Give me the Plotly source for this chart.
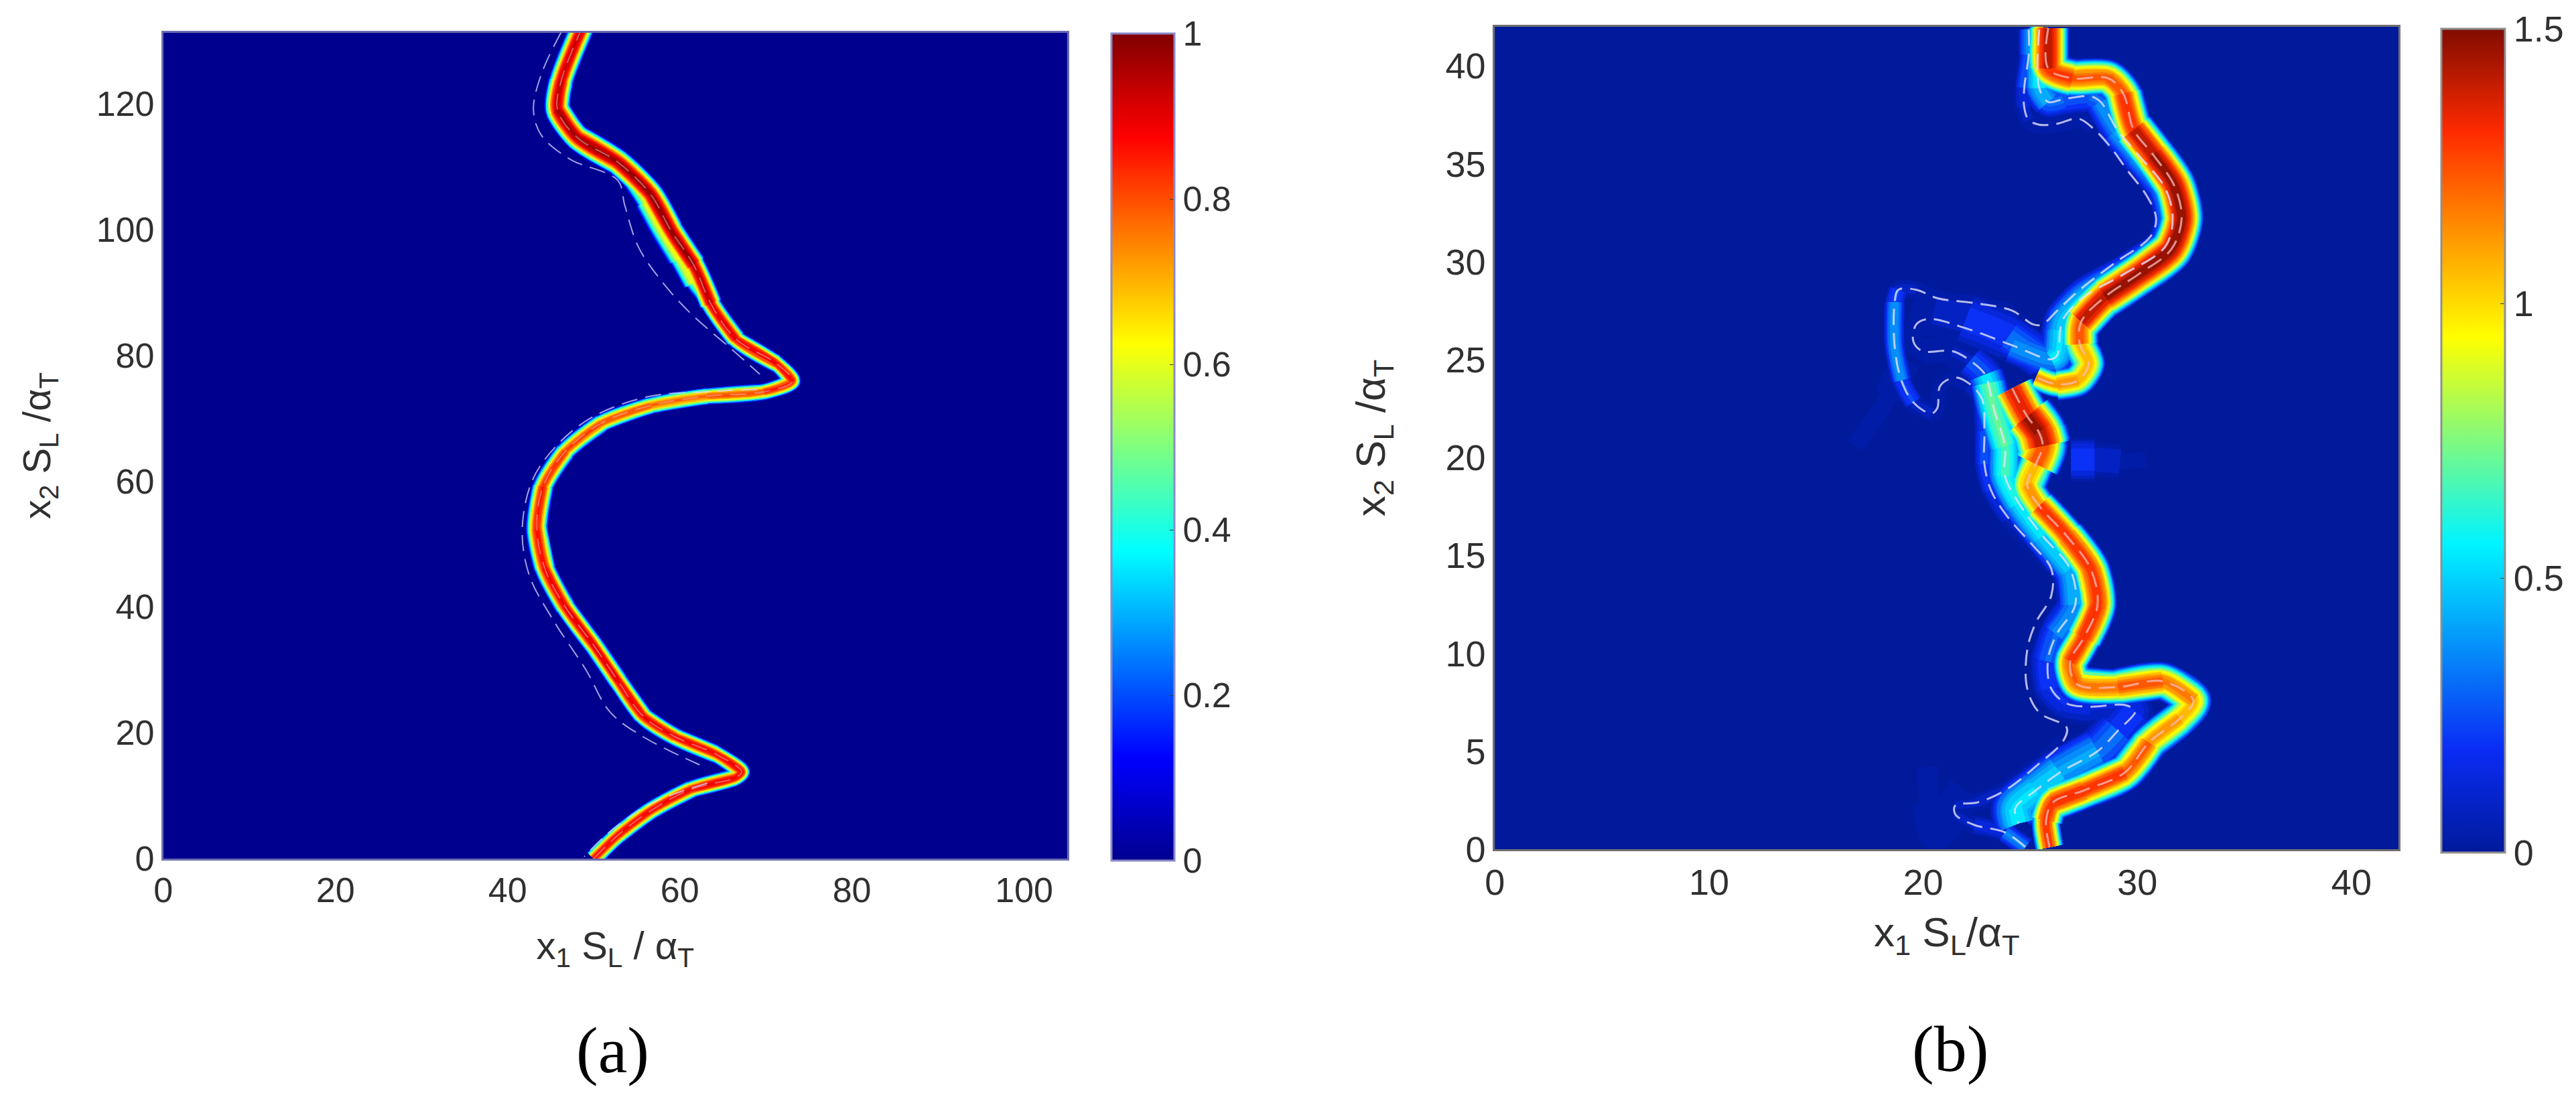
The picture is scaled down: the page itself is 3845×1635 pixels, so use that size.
import plotly.graph_objects as go

W, H = 3845, 1635
# the page body adds 8 px round the figure
FW, FH = W - 16, H - 16


def fx(px):
    return (px - 8) / FW


def fy(py):
    return (FH - (py - 8)) / FH


# panel (a) values
a_x_ticks = [0, 20, 40, 60, 80, 100]
a_y_ticks = [0, 20, 40, 60, 80, 100, 120]
a_cb_ticks = [0, 0.2, 0.4, 0.6, 0.8, 1]
a_cb_labels = ["0", "0.2", "0.4", "0.6", "0.8", "1"]
a_range_x = 105
a_range_y = 131.25

a_front_x = [50, 52.8, 56.6, 61.3, 66.5, 67.2, 64.2, 59.4, 55.7, 52.8, 50, 46.7, 44.3, 43.4, 44.1, 46.7, 50.9, 56.6,
             63.2, 69.8, 73.1, 71.2, 66.5, 63.6, 61.6, 58.9, 56.6, 52.8, 48.1, 45.8, 46.2, 48.6]
a_front_y = [0, 3.7, 7.6, 11, 12.9, 13.8, 16.6, 19.4, 22.7, 28.3, 33.9, 40, 46.2, 52.4, 59.1, 64.7, 69.2, 72,
             73.5, 74.2, 75.9, 78.7, 82.6, 88.2, 94.4, 100, 105.6, 110.7, 114.6, 119, 123.5, 131.9]
a_front_thick = [2.2, 2.2, 2.2, 2.2, 2, 2, 2.2, 2.2, 2.3, 2.4, 2.4, 2.5, 2.6, 2.8, 2.6, 2.4, 2.2, 2.1,
                 2, 2, 2, 2.1, 2.3, 2.6, 3, 3.2, 3.2, 3.2, 3.2, 3.2, 3, 3]
a_front_peak = [0.88, 0.9, 0.9, 0.9, 0.9, 0.9, 0.9, 0.9, 0.92, 0.92, 0.92, 0.92, 0.9, 0.88, 0.85, 0.85, 0.82, 0.8,
                0.8, 0.85, 0.9, 0.9, 0.92, 0.95, 1, 1, 1, 0.98, 0.98, 0.98, 0.95, 0.95]

# broader pale side of the front in the upper part of (a)
a_lobe_x = [63.6, 61.6, 60, 58, 56.2, 54.5, 52.8]
a_lobe_y = [88.2, 91.5, 95.5, 100, 104.5, 108, 110.7]
a_lobe_thick = [1.5, 2.4, 3, 3.2, 3, 2.4, 1.5]
a_lobe_peak = [0.5, 0.6, 0.65, 0.65, 0.65, 0.6, 0.5]

a_dash1_x = [46.2, 43.9, 43, 43.9, 47.2, 52.8, 53.6, 55.2, 58, 61.3, 66, 69.3]
a_dash1_y = [131.3, 124.6, 119, 115, 111.2, 107.8, 103.9, 97.2, 91.6, 86.6, 81, 77]
a_dash2_x = [69, 63.2, 56.6, 50, 45.8, 42.9, 41.7, 42.5, 45.3, 49.1, 51.9, 55.7, 62.3]
a_dash2_y = [74.6, 74.2, 73.5, 70.3, 65.8, 60.2, 52.4, 45.1, 37.9, 30, 23.3, 19.4, 14.9]
a_dash3_x = [63.2, 56.6, 51.9, 48.9]
a_dash3_y = [12, 8.7, 4.3, 0.3]

# panel (b) values
b_x_ticks = [0, 10, 20, 30, 40]
b_y_ticks = [0, 5, 10, 15, 20, 25, 30, 35, 40]
b_cb_ticks = [0, 0.5, 1, 1.5]
b_cb_labels = ["0", "0.5", "1", "1.5"]
b_range_x = 42.2
b_range_y = 42

b_upper_x = [25.84, 25.84, 26.96, 28.64, 29.34, 29.83, 30.74, 31.72, 32.07, 31.58, 30.04, 28.5, 27.38, 27.31, 27.73,
             27.24, 26.26, 25.28]
b_upper_y = [41.93, 39.87, 39.37, 39.37, 38.59, 36.74, 35.46, 33.9, 32.2, 30.63, 29.35, 28.22, 26.94, 25.8, 24.8,
             23.95, 23.74, 24.1]
b_upper_thick = [2, 2, 1.8, 1.8, 1.8, 2.1, 2.1, 2.1, 2.1, 2.1, 2.1, 2.1, 2, 1.7, 1.6, 1.6, 1.5, 1.1]
b_upper_peak = [1.5, 1.4, 1.25, 1.25, 1.28, 1.42, 1.5, 1.5, 1.5, 1.5, 1.5, 1.5, 1.4, 1.15, 1.05, 1.15, 1.2, 1.1]

b_lower_x = [24.16, 24.86, 25.4, 25.58, 25.26, 24.86, 25.42, 26.7, 27.82, 28.14, 27.5, 26.86, 27.18, 29.1, 31.18, 32.62,
             31.98, 30.54, 29.42, 27.5, 26.06, 25.74, 25.9]
b_lower_y = [23.53, 22.1, 21.3, 20.59, 19.67, 18.6, 17.53, 16, 14.32, 12.48, 10.8, 9.58, 8.43, 8.28, 8.58, 7.59,
             6.67, 5.45, 3.92, 3, 2.39, 1.47, 0.1]
b_lower_thick = [2, 2.5, 2.9, 2.7, 2.1, 1.6, 1.7, 1.8, 1.9, 1.9, 1.8, 1.7, 1.7, 1.8, 1.8, 1.8, 1.7, 1.8, 1.8, 1.8, 1.8,
                 1.5, 1.3]
b_lower_peak = [1.3, 1.5, 1.5, 1.42, 1.15, 1.05, 1.3, 1.35, 1.3, 1.35, 1.35, 1.3, 1.2, 1.25, 1.3, 1.1, 1.1, 1.2, 1.3,
                1.35, 1.35, 1.3, 1.35]

b_dash_out_x = [24.93, 24.93, 24.72, 24.72, 24.93, 25.42, 26.26, 27.24, 27.94, 28.78, 29.48, 30.46, 30.88, 30.6, 28.92,
                27.24, 26.26, 25.56, 25.14, 24.16, 22.62, 20.66, 19.68, 18.84, 18.67, 18.67, 18.98, 19.54, 20.38, 20.66,
                20.8, 21.5, 22.2, 22.76, 22.86, 22.86, 23.18, 23.98, 25.1, 25.98, 25.98, 25.26, 24.86, 24.86, 25.42,
                26.7, 26.54, 25.26, 23.82, 22.54, 21.5, 21.5, 22.38, 23.82, 24.78]
b_dash_out_y = [41.86, 40.58, 38.87, 37.88, 37.24, 37, 37.05, 37.31, 36.81, 35.82, 34.75, 33.33, 32.2, 31.27, 29.92,
                28.5, 27.5, 26.8, 26.8, 27.5, 27.86, 28.14, 28.57, 28.57, 27.93, 25.66, 23.95, 22.82, 22.25, 22.53,
                23.67, 24.09, 23.74, 22.96, 21.35, 19.67, 18.3, 16.92, 15.54, 14.32, 12.94, 11.57, 10.19, 8.2, 6.98,
                6.21, 5.53, 4.23, 3, 2.39, 2.24, 1.78, 1.24, 0.86, 0.1]
b_dash_out_peak = [0.4, 0.4, 0.2, 0.13, 0.06, 0.06, 0.06, 0.06, 0.02, 0.02, 0.02, 0.02, 0.02, 0.02, 0.02,
                   0.02, 0.02, 0.02, 0.02, 0.03, 0.04, 0.05, 0.06, 0.14, 0.38, 0.46, 0.38, 0.14, 0.06, 0.04,
                   0.04, 0.04, 0.08, 0.2, 0.28, 0.28, 0.22, 0.12, 0.06, 0.02, 0.02, 0.02, 0.02, 0.02, 0.02,
                   0.02, 0.02, 0.06, 0.1, 0.1, 0.08, 0.08, 0.1, 0.25, 0.5]
b_dash_out_thick = [1] * len(b_dash_out_x)

b_dash_mid_x = [25.42, 25.42, 25.84, 26.54, 27.8, 28.29, 29.06, 30.04, 31.3, 31.65, 31.3, 29.34, 27.52, 26.54, 26.4,
                26.26, 25.98, 24.16, 22.06, 20.24, 19.68, 19.54, 19.96, 21.36, 22.2, 22.9, 23.04, 23.3, 23.82, 23.82,
                24.46, 25.58, 26.86, 27.1, 26.22, 25.82, 25.98, 26.7, 27.82, 29.42, 29.9, 29.1, 28.14, 26.38, 25.26,
                24.3, 24.46]
b_dash_mid_y = [41.86, 38.87, 38.16, 38.3, 38.45, 38.16, 36.74, 35.46, 33.76, 32.2, 30.77, 29.35, 28.22, 27.08, 26.51,
                25.23, 25.02, 25.73, 26.58, 27.08, 26.8, 25.94, 25.44, 25.44, 24.95, 24.24, 23.8, 22.5, 20.59, 19.06,
                17.68, 16, 14.32, 12.48, 10.95, 9.58, 8.2, 7.44, 7.28, 7.36, 7.06, 6.06, 5, 3.92, 3,
                2.09, 1.32]
b_dash_mid_peak = [0.6, 0.6, 0.35, 0.3, 0.3, 0.35, 0.45, 0.45, 0.5, 0.5, 0.5, 0.5, 0.5, 0.5, 0.5,
                   0.6, 0.55, 0.25, 0.1, 0.06, 0.03, 0.03, 0.03, 0.05, 0.12, 0.45, 0.7, 0.75, 0.7, 0.65,
                   0.6, 0.55, 0.5, 0.45, 0.35, 0.28, 0.22, 0.18, 0.14, 0.14, 0.2, 0.3, 0.38, 0.5, 0.55,
                   0.55, 0.6]
b_dash_mid_thick = [1.6] * 6 + [1.8] * 35 + [2.4] * 6

b_arm_x = [19.5, 20.5, 22, 24, 25.6]
b_arm_y = [27.8, 27.5, 27.1, 26.2, 25]
b_arm_thick = [0.4, 1.4, 2.6, 2.6, 1.6]
b_arm_peak = [0.03, 0.08, 0.18, 0.28, 0.4]

b_haze1_x = [16.8, 18.4, 19.2]
b_haze1_y = [20.6, 23.1, 25]
b_haze1_peak = [0.03, 0.05, 0.05]
b_haze1_thick = [0.6, 1.8, 2]
b_haze2_x = [26.9, 28, 29.2, 30.4]
b_haze2_y = [19.9, 19.9, 19.8, 19.9]
b_haze2_peak = [0.3, 0.18, 0.08, 0.03]
b_haze2_thick = [2.4, 2, 1.4, 0.5]
b_haze3_x = [20.2, 20.3, 20.6, 22]
b_haze3_y = [4.2, 2.4, 0.8, 3]
b_haze3_peak = [0.03, 0.05, 0.05, 0.05]
b_haze3_thick = [0.6, 2.2, 2, 2.6]

a_fronts = [(a_lobe_x, a_lobe_y, a_lobe_thick, a_lobe_peak),
            (a_front_x, a_front_y, a_front_thick, a_front_peak)]
b_fronts = [(b_haze1_x, b_haze1_y, b_haze1_thick, b_haze1_peak),
            (b_haze2_x, b_haze2_y, b_haze2_thick, b_haze2_peak),
            (b_haze3_x, b_haze3_y, b_haze3_thick, b_haze3_peak),
            (b_arm_x, b_arm_y, b_arm_thick, b_arm_peak),
            (b_dash_out_x, b_dash_out_y, b_dash_out_thick, b_dash_out_peak),
            (b_dash_mid_x, b_dash_mid_y, b_dash_mid_thick, b_dash_mid_peak),
            (b_upper_x, b_upper_y, b_upper_thick, b_upper_peak),
            (b_lower_x, b_lower_y, b_lower_thick, b_lower_peak)]

jet_a = [[0, "#00008f"], [0.125, "#0000ff"], [0.375, "#00ffff"], [0.625, "#ffff00"], [0.875, "#ff0000"], [1, "#800000"]]
jet_b = [[0, "#001a9b"], [0.125, "#0a2cf5"], [0.375, "#00f4ff"], [0.625, "#ffff00"], [0.875, "#ff2a00"], [1, "#800c00"]]


def sample(scale, t):
    for (t0, c0), (t1, c1) in zip(scale, scale[1:]):
        if t <= t1:
            f = (t - t0) / (t1 - t0)
            rgb = [round(int(c0[i:i + 2], 16) * (1 - f) + int(c1[i:i + 2], 16) * f) for i in (1, 3, 5)]
            return "rgb(%d,%d,%d)" % tuple(rgb)
    return scale[-1][1]


def add_fronts(fig, fronts, scale, zmax, xa, ya, px_unit, falloff, n_levels=26):
    # painted from the outer colour band to the inner one, so that higher values stay on top
    for k in range(n_levels):
        level = zmax * (k + 0.4) / n_levels
        groups = {}
        for xs, ys, thick, peak in fronts:
            seg = []
            for i in range(len(xs) - 1):
                p = (peak[i] + peak[i + 1]) / 2
                w = 0
                if level < p:
                    w = (thick[i] + thick[i + 1]) / 2 * px_unit * (1 - level / p) ** falloff
                seg.append(max(1, round(w / 3) * 3) if w > 0 else 0)
            for i, q in enumerate(seg):
                if q == 0:
                    continue
                # a piece only runs on over a neighbour that is at least as wide, so the bends stay closed
                lo, hi = i, i + 1
                if i > 0 and seg[i - 1] >= q:
                    lo = i - 1
                if i < len(seg) - 1 and seg[i + 1] >= q:
                    hi = i + 2
                gx, gy = groups.setdefault(q, ([], []))
                gx.extend(xs[lo:hi + 1] + [None])
                gy.extend(ys[lo:hi + 1] + [None])
        for q in sorted(groups):
            gx, gy = groups[q]
            fig.add_trace(go.Scatter(x=gx, y=gy, xaxis=xa, yaxis=ya, mode="lines", showlegend=False, hoverinfo="skip",
                                     line=dict(color=sample(scale, level / zmax), width=q, shape="spline", smoothing=0.8)))


def add_dash(fig, xs, ys, xa, ya, color, width=3):
    fig.add_trace(go.Scatter(x=xs, y=ys, xaxis=xa, yaxis=ya, mode="lines", showlegend=False, hoverinfo="skip",
                             line=dict(color=color, width=width, dash="24px,12px", shape="spline")))


fig = go.Figure()

# flat background fields, they also carry the two colour bars
fig.add_trace(go.Heatmap(z=[[0, 0], [0, 0]], x=[0, a_range_x], y=[0, a_range_y], xaxis="x", yaxis="y", zmin=0, zmax=1,
                         colorscale=jet_a, hoverinfo="skip",
                         colorbar=dict(x=fx(1660), xanchor="left", y=fy(1285), yanchor="bottom",
                                       len=1235 / FH, lenmode="fraction", thickness=94, thicknessmode="pixels",
                                       xpad=0, ypad=0, outlinecolor="#8a8ac8", outlinewidth=3,
                                       tickmode="array", tickvals=a_cb_ticks, ticktext=a_cb_labels,
                                       ticks="inside", ticklen=8, tickcolor="#333333",
                                       tickfont=dict(family="Liberation Sans", size=52, color="#303030"))))
fig.add_trace(go.Heatmap(z=[[0, 0], [0, 0]], x=[0, b_range_x], y=[0, b_range_y], xaxis="x2", yaxis="y2", zmin=0, zmax=1.5,
                         colorscale=jet_b, hoverinfo="skip",
                         colorbar=dict(x=fx(3647), xanchor="left", y=fy(1273), yanchor="bottom",
                                       len=1230 / FH, lenmode="fraction", thickness=95, thicknessmode="pixels",
                                       xpad=0, ypad=0, outlinecolor="#909090", outlinewidth=3,
                                       tickmode="array", tickvals=b_cb_ticks, ticktext=b_cb_labels,
                                       ticks="inside", ticklen=8, tickcolor="#333333",
                                       tickfont=dict(family="Liberation Sans", size=54, color="#303030"))))

add_fronts(fig, a_fronts, jet_a, 1, "x", "y", 12.87, 0.5)
add_fronts(fig, b_fronts, jet_b, 1.5, "x2", "y2", 31.9, 0.45)

dash_a = "rgba(215,215,255,0.75)"
dash_b = "rgba(225,225,255,0.8)"
add_dash(fig, a_dash1_x, a_dash1_y, "x", "y", dash_a, 2)
add_dash(fig, a_dash2_x, a_dash2_y, "x", "y", dash_a, 2)
add_dash(fig, a_dash3_x, a_dash3_y, "x", "y", dash_a, 2)
add_dash(fig, b_dash_out_x, b_dash_out_y, "x2", "y2", dash_b)
add_dash(fig, b_dash_mid_x, b_dash_mid_y, "x2", "y2", dash_b)
add_dash(fig, b_upper_x, b_upper_y, "x2", "y2", "rgba(245,190,190,0.75)")
add_dash(fig, b_lower_x, b_lower_y, "x2", "y2", "rgba(245,190,190,0.75)")
add_dash(fig, a_front_x, a_front_y, "x", "y", "rgba(245,190,190,0.5)", 2)

title_font = dict(family="Liberation Sans", size=58, color="#303030")
title_font_b = dict(family="Liberation Sans", size=62, color="#303030")
tick_font = dict(family="Liberation Sans", size=52, color="#303030")
tick_font_b = dict(family="Liberation Sans", size=54, color="#303030")

fig.update_layout(
    width=FW, height=FH, autosize=False, margin=dict(l=0, r=0, t=0, b=0),
    paper_bgcolor="white", plot_bgcolor="#00008f", showlegend=False,
    xaxis=dict(domain=[fx(244), fx(1594)], range=[0, a_range_x], tickmode="array", tickvals=a_x_ticks, ticks="", automargin=False,
               showgrid=False, zeroline=False, showline=True, mirror=True, linecolor="#6c6cb0", linewidth=3,
               tickfont=tick_font, title=dict(text="x<sub>1</sub> S<sub>L</sub> / α<sub>T</sub>", font=title_font, standoff=34)),
    yaxis=dict(domain=[fy(1282), fy(49)], range=[0, a_range_y], tickmode="array", tickvals=a_y_ticks, ticks="", automargin=False,
               showgrid=False, zeroline=False, showline=True, mirror=True, linecolor="#6c6cb0", linewidth=3,
               tickfont=tick_font, title=dict(text="x<sub>2</sub> S<sub>L</sub> /α<sub>T</sub>", font=title_font, standoff=50)),
    xaxis2=dict(domain=[fx(2233), fx(3583)], range=[0, b_range_x], anchor="y2", tickmode="array", tickvals=b_x_ticks, ticks="", automargin=False,
                showgrid=False, zeroline=False, showline=True, mirror=True, linecolor="#707070", linewidth=3,
                tickfont=tick_font_b, title=dict(text="x<sub>1</sub> S<sub>L</sub>/α<sub>T</sub>", font=title_font_b, standoff=24)),
    yaxis2=dict(domain=[fy(1268), fy(40)], range=[0, b_range_y], anchor="x2", tickmode="array", tickvals=b_y_ticks, ticks="", automargin=False,
                showgrid=False, zeroline=False, showline=True, mirror=True, linecolor="#707070", linewidth=3,
                tickfont=tick_font_b, title=dict(text="x<sub>2</sub> S<sub>L</sub> /α<sub>T</sub>", font=title_font_b, standoff=70)),
    annotations=[
        dict(text="(a)", xref="paper", yref="paper", x=fx(915), y=fy(1568), showarrow=False, xanchor="center", yanchor="middle",
             font=dict(family="Liberation Serif", size=98, color="black")),
        dict(text="(b)", xref="paper", yref="paper", x=fx(2913), y=fy(1566), showarrow=False, xanchor="center", yanchor="middle",
             font=dict(family="Liberation Serif", size=98, color="black")),
    ],
)

fig.write_html("out.html")
